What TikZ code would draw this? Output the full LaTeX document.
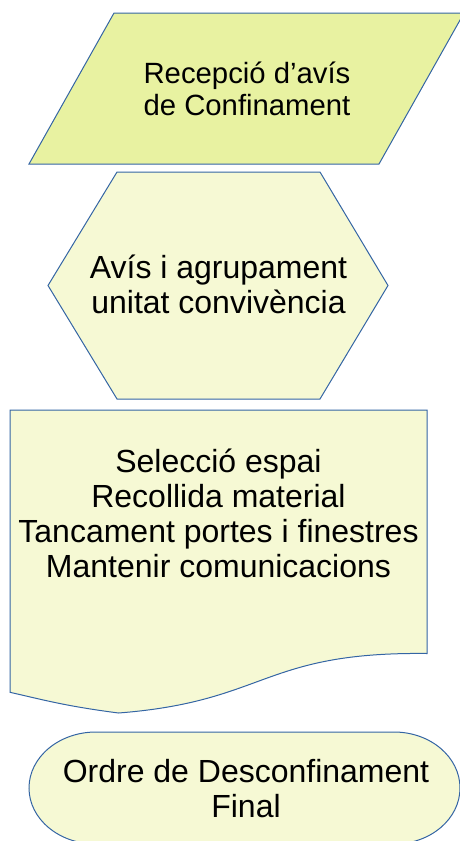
\documentclass[tikz,border=0pt]{standalone}
\usepackage{fontspec}
\setmainfont{Liberation Sans}

\definecolor{shapeline}{HTML}{3465A4}
\definecolor{inputfill}{HTML}{E8F2A1}
\definecolor{stepfill}{HTML}{F6F9D4}

\begin{document}
\begin{tikzpicture}[x=1pt,y=-1pt,
outline/.style={draw=shapeline,line width=1pt,line join=miter},
txt/.style={align=center,inner sep=0pt,font=\fontsize{32}{35}\selectfont}]
\useasboundingbox (0,0) rectangle (459,841);
% input
\draw[outline,fill=inputfill] (114,13) -- (464,13) -- (379,164) -- (29,164) -- cycle;
\node[txt,font=\fontsize{29.3}{32.4}\selectfont] (recep) at (247,89) {Recepció d’avís\\de Confinament};
% preparation
\draw[outline,fill=stepfill] (117,172) -- (320,172) -- (388,285.5) -- (320,399) -- (117,399) -- (48,285.5) -- cycle;
\node[txt] (avis) at (218.5,284) {Avís i agrupament\\unitat convivència};
% document
\draw[outline,fill=stepfill] (10,410) -- (427,410) -- (427,653.5)
	.. controls (262,651.6) and (267.5,701.4) .. (118.5,713)
	.. controls (65.2,706) and (45.7,700.4) .. (10,692.3) -- cycle;
\node[txt] (accions) at (218.5,513.5) {Selecció espai\\Recollida material\\Tancament portes i finestres\\Mantenir comunicacions};
% terminal
\draw[outline,fill=stepfill] (96,732) -- (394,732)
	arc[start angle=-90,end angle=90,x radius=66,y radius=56] -- (96,844)
	arc[start angle=90,end angle=270,x radius=67,y radius=56] -- cycle;
\node[txt] (final) at (246,789) {Ordre de Desconfinament\\Final};
\end{tikzpicture}
\end{document}
